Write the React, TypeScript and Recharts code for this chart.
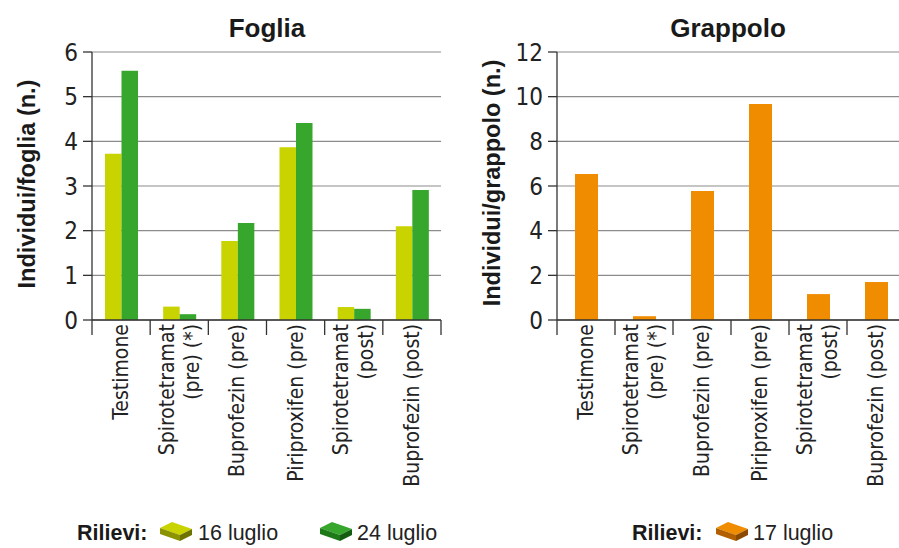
import React from "react";
import { BarChart, Bar, XAxis, YAxis, CartesianGrid } from "recharts";

// ---- data ----
const categories = [
  "Testimone",
  "Spirotetramat\n(pre) (*)",
  "Buprofezin (pre)",
  "Piriproxifen (pre)",
  "Spirotetramat\n(post)",
  "Buprofezin (post)",
];
const foglia16Luglio = [3.72, 0.3, 1.77, 3.87, 0.29, 2.1];
const foglia24Luglio = [5.58, 0.13, 2.17, 4.41, 0.25, 2.91];
const grappolo17Luglio = [6.54, 0.17, 5.78, 9.67, 1.16, 1.7];
const fogliaTicks = [0, 1, 2, 3, 4, 5, 6];
const grappoloTicks = [0, 2, 4, 6, 8, 10, 12];

const fogliaSeries = [
  { key: "l16", name: "16 luglio", color: "#C9D300", front: "#8C9300", side: "#6E7300" },
  { key: "l24", name: "24 luglio", color: "#36A62C", front: "#1E7A19", side: "#135C10" },
];
const grappoloSeries = [
  { key: "l17", name: "17 luglio", color: "#F08C00", front: "#B25F00", side: "#8C4A00" },
];

const fogliaData = categories.map((c, i) => ({
  name: c,
  l16: foglia16Luglio[i],
  l24: foglia24Luglio[i],
}));
const grappoloData = categories.map((c, i) => ({ name: c, l17: grappolo17Luglio[i] }));

const NARROW = "'Liberation Sans Narrow', 'DejaVu Sans Condensed', 'Liberation Sans', sans-serif";
const SANS = "'Liberation Sans', Arial, sans-serif";
const AXIS = "#333";

//========= category tick: rotated, multi-line, with boundary ticks =========
const CategoryTick = (props: any) => {
  const { x, y, payload, index, visibleTicksCount } = props;
  const lines = String(payload.value).split("\n");
  const half = payload.offset ?? 29;
  const axisY = y - 4;
  const lineH = 25;
  return (
    <g>
      <line x1={x - half} x2={x - half} y1={axisY} y2={axisY + 15} stroke={AXIS} strokeWidth={1.3} />
      {index === visibleTicksCount - 1 && (
        <line x1={x + half} x2={x + half} y1={axisY} y2={axisY + 15} stroke={AXIS} strokeWidth={1.3} />
      )}
      <text
        transform={`translate(${x},${y}) rotate(-90)`}
        textAnchor="end"
        fontSize={21}
        fontFamily={NARROW}
        fill="#222"
      >
        {lines.map((l, i) => (
          <tspan key={i} x={0} y={(i - (lines.length - 1) / 2) * lineH} dy="0.33em">
            {l}
          </tspan>
        ))}
      </text>
    </g>
  );
};

//========= 3D brick legend icon =========
const Brick = ({ x, y, s }: { x: number; y: number; s: any }) => (
  <g transform={`translate(${x},${y})`}>
    <polygon points="0,7 12,1 32,8 20,14" fill={s.color} />
    <polygon points="0,7 20,14 20,20 0,13" fill={s.front} />
    <polygon points="20,14 32,8 32,14 20,20" fill={s.side} />
  </g>
);

const yTick = { fontSize: 24, fontFamily: NARROW, fill: "#222" };

export default function App() {
  return (
    <div style={{ position: "relative", width: 899, height: 548, overflow: "hidden", background: "#fff" }}>
      <style>{"body{margin:0}"}</style>
      {/*========= Foglia =========*/}
      <div style={{ position: "absolute", left: 0, top: 0 }}>
        <BarChart
          width={450}
          height={548}
          data={fogliaData}
          margin={{ top: 52, right: 9, bottom: 28, left: 0 }}
          barSize={16.5}
          barGap={0}
        >
          <CartesianGrid vertical={false} stroke="#8c8c8c" strokeWidth={1.2} />
          <XAxis
            dataKey="name"
            interval={0}
            height={200}
            tickSize={0}
            tickMargin={4}
            tickLine={false}
            axisLine={{ stroke: AXIS, strokeWidth: 1.3 }}
            tick={<CategoryTick />}
          />
          <YAxis
            width={92}
            domain={[0, 6]}
            ticks={fogliaTicks}
            tickSize={9}
            tickMargin={5}
            tick={yTick}
            tickLine={{ stroke: AXIS, strokeWidth: 1.3 }}
            axisLine={{ stroke: AXIS, strokeWidth: 1.3 }}
          />
          {fogliaSeries.map((s) => (
            <Bar key={s.key} dataKey={s.key} name={s.name} fill={s.color} isAnimationActive={false} />
          ))}
        </BarChart>
      </div>

      {/*========= Grappolo =========*/}
      <div style={{ position: "absolute", left: 465, top: 0 }}>
        <BarChart
          width={440}
          height={548}
          data={grappoloData}
          margin={{ top: 52, right: 0, bottom: 28, left: 0 }}
          barSize={23}
        >
          <CartesianGrid vertical={false} stroke="#8c8c8c" strokeWidth={1.2} />
          <XAxis
            dataKey="name"
            interval={0}
            height={200}
            tickSize={0}
            tickMargin={4}
            tickLine={false}
            axisLine={{ stroke: AXIS, strokeWidth: 1.3 }}
            tick={<CategoryTick />}
          />
          <YAxis
            width={92}
            domain={[0, 12]}
            ticks={grappoloTicks}
            tickSize={9}
            tickMargin={5}
            tick={yTick}
            tickLine={{ stroke: AXIS, strokeWidth: 1.3 }}
            axisLine={{ stroke: AXIS, strokeWidth: 1.3 }}
          />
          {grappoloSeries.map((s) => (
            <Bar key={s.key} dataKey={s.key} name={s.name} fill={s.color} isAnimationActive={false} />
          ))}
        </BarChart>
      </div>

      {/*========= titles, axis titles, legends =========*/}
      <svg width={899} height={548} style={{ position: "absolute", left: 0, top: 0, pointerEvents: "none" }}>
        <g fontFamily={SANS} fill="#1a1a1a" fontWeight="bold">
          <text x={267} y={37} fontSize={26} textAnchor="middle">Foglia</text>
          <text x={728} y={37} fontSize={26} textAnchor="middle">Grappolo</text>
          <text transform="translate(35,184) rotate(-90)" fontSize={23.5} textAnchor="middle">
            Individui/foglia (n.)
          </text>
          <text transform="translate(500,183) rotate(-90)" fontSize={23.5} textAnchor="middle">
            Individui/grappolo (n.)
          </text>
          <text x={77} y={540} fontSize={21.5}>Rilievi:</text>
          <text x={632} y={540} fontSize={21.5}>Rilievi:</text>
        </g>
        <g fontFamily={SANS} fill="#222" fontSize={21.5}>
          {fogliaSeries.map((s, i) => (
            <g key={s.key}>
              <Brick x={160 + i * 160} y={521} s={s} />
              <text x={198 + i * 159} y={540}>{s.name}</text>
            </g>
          ))}
          {grappoloSeries.map((s) => (
            <g key={s.key}>
              <Brick x={716} y={521} s={s} />
              <text x={753} y={540}>{s.name}</text>
            </g>
          ))}
        </g>
      </svg>
    </div>
  );
}
